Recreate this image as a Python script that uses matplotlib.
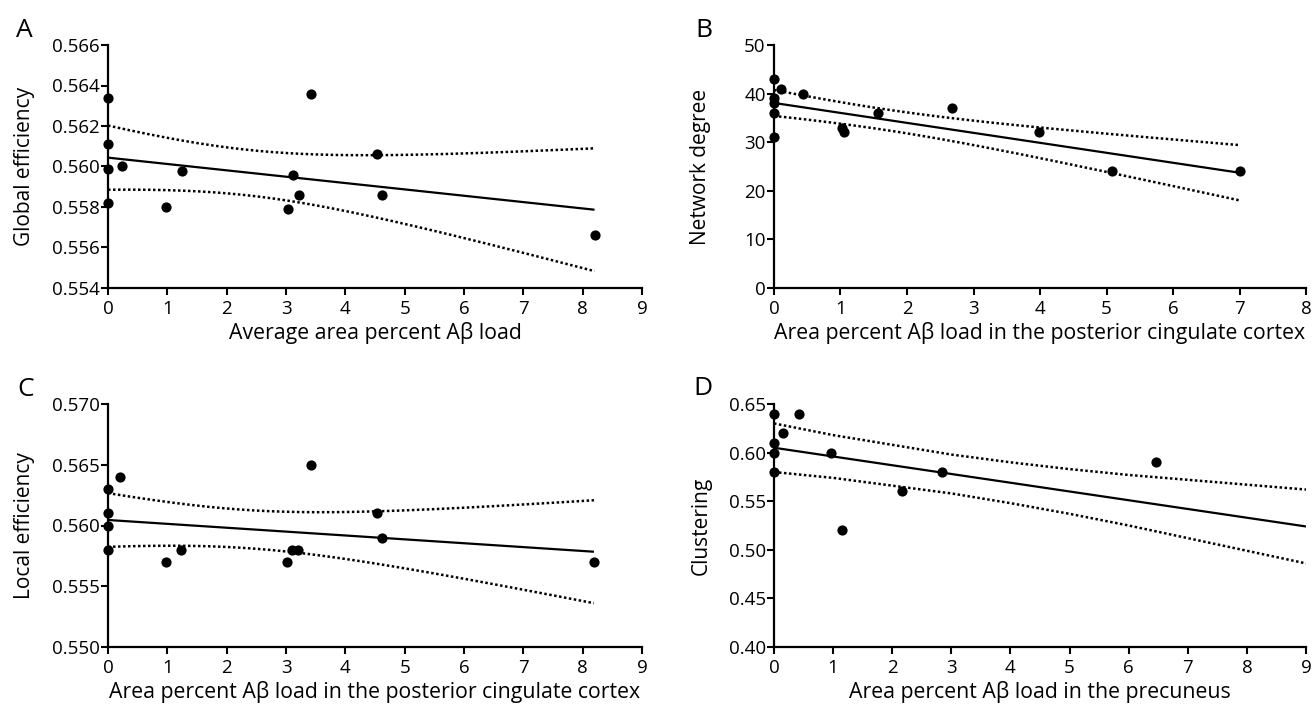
import numpy as np
import matplotlib
matplotlib.use("Agg")
import matplotlib.pyplot as plt

plt.rcParams['font.family'] = ['Open Sans', 'DejaVu Sans']

# ---------------- data ----------------
# Panel A: global efficiency vs average area percent Abeta load
A_x = [0, 0, 0, 0, 0.23, 0.98, 1.24, 3.03, 3.12, 3.22, 3.42, 4.54, 4.62, 8.20]
A_y = [0.5634, 0.5611, 0.5599, 0.5582, 0.5600, 0.5580, 0.5598, 0.5579,
       0.5596, 0.5586, 0.5636, 0.5606, 0.5586, 0.5566]
A_yticks = [0.554, 0.556, 0.558, 0.560, 0.562, 0.564, 0.566]
A_xticks = [0, 1, 2, 3, 4, 5, 6, 7, 8, 9]

# Panel B: network degree vs PCC load
B_x = [0, 0, 0, 0, 0, 0.11, 0.43, 1.02, 1.06, 1.56, 2.68, 3.99, 5.09, 7.01]
B_y = [43, 39, 38, 36, 31, 41, 40, 33, 32, 36, 37, 32, 24, 24]
B_yticks = [0, 10, 20, 30, 40, 50]
B_xticks = [0, 1, 2, 3, 4, 5, 6, 7, 8]

# Panel C: local efficiency vs PCC load
C_x = [0, 0, 0, 0, 0.21, 0.97, 1.23, 3.01, 3.10, 3.21, 3.42, 4.53, 4.61, 8.19]
C_y = [0.563, 0.561, 0.560, 0.558, 0.564, 0.557, 0.558, 0.557, 0.558,
       0.558, 0.565, 0.561, 0.559, 0.557]
C_yticks = [0.550, 0.555, 0.560, 0.565, 0.570]
C_xticks = [0, 1, 2, 3, 4, 5, 6, 7, 8, 9]

# Panel D: clustering vs precuneus load (fit & band)
D_x = [0, 0, 0, 0, 0.15, 0.42, 0.97, 1.15, 2.17, 2.84, 6.46]
D_y = [0.64, 0.61, 0.60, 0.58, 0.62, 0.64, 0.60, 0.52, 0.56, 0.58, 0.59]
D_line_x = [0, 9]
D_line_y = [0.605, 0.524]
D_band_x = [0, 1, 2, 3, 4, 5, 6, 7, 8, 9]
D_band_upper = [0.630, 0.618, 0.608, 0.598, 0.590, 0.583, 0.577, 0.572, 0.567, 0.562]
D_band_lower = [0.580, 0.574, 0.566, 0.558, 0.548, 0.537, 0.525, 0.512, 0.499, 0.486]
D_yticks = [0.40, 0.45, 0.50, 0.55, 0.60, 0.65]
D_xticks = [0, 1, 2, 3, 4, 5, 6, 7, 8, 9]

labels = {
    'A': ('Average area percent A\u03b2 load', 'Global efficiency'),
    'B': ('Area percent A\u03b2 load in the posterior cingulate cortex', 'Network degree'),
    'C': ('Area percent A\u03b2 load in the posterior cingulate cortex', 'Local efficiency'),
    'D': ('Area percent A\u03b2 load in the precuneus', 'Clustering'),
}

# 95% two-sided t critical values
T975 = {9: 2.262, 10: 2.228, 11: 2.201, 12: 2.179, 13: 2.160, 14: 2.145}


def ols_ci(x, y, xs):
    x = np.asarray(x, float)
    y = np.asarray(y, float)
    n = len(x)
    xm = x.mean()
    sxx = ((x - xm) ** 2).sum()
    b = ((x - xm) * (y - y.mean())).sum() / sxx
    a = y.mean() - b * xm
    res = y - (a + b * x)
    s = np.sqrt((res ** 2).sum() / (n - 2))
    t = T975[n - 2]
    fit = a + b * xs
    hw = t * s * np.sqrt(1.0 / n + (xs - xm) ** 2 / sxx)
    return fit, fit - hw, fit + hw


W, H = 1313, 705
fig = plt.figure(figsize=(W / 100, H / 100), dpi=100)


def add_axes(l, r, t, b):
    return fig.add_axes([l / W, 1 - b / H, (r - l) / W, (b - t) / H])


axA = add_axes(108, 642, 45, 288)
axB = add_axes(774, 1306, 45, 288)
axC = add_axes(108, 642, 404, 647)
axD = add_axes(774, 1306, 404, 647)

LINE_KW = dict(color='black', lw=1.6, solid_capstyle='butt')
DOT_KW = dict(color='black', lw=1.8, linestyle=(0, (1.0, 1.0)))
MK_KW = dict(s=54, color='black', zorder=5, clip_on=False, linewidths=0)


def style(ax, xticks, yticks, fmt, xlab, ylab, ylab_x):
    for sp in ['top', 'right']:
        ax.spines[sp].set_visible(False)
    for sp in ['left', 'bottom']:
        ax.spines[sp].set_linewidth(1.6)
    ax.set_xlim(xticks[0], xticks[-1])
    ax.set_ylim(yticks[0], yticks[-1])
    ax.set_xticks(xticks)
    ax.set_yticks(yticks)
    ax.set_yticklabels([fmt.format(v) for v in yticks])
    ax.tick_params(axis='both', direction='out', length=5, width=1.5,
                   labelsize=13.5, colors='black')
    ax.tick_params(axis='x', pad=3.5)
    ax.tick_params(axis='y', pad=1)
    ax.set_xlabel(xlab, fontsize=15.3)
    ax.set_ylabel(ylab, fontsize=15)
    ax.xaxis.set_label_coords(0.5, -0.138)
    ax.yaxis.set_label_coords(ylab_x, 0.5)


# Panel A
xs = np.linspace(min(A_x), max(A_x), 200)
fit, lo, hi = ols_ci(A_x, A_y, xs)
axA.plot(xs, fit, **LINE_KW)
axA.plot(xs, lo, **DOT_KW)
axA.plot(xs, hi, **DOT_KW)
axA.scatter(A_x, A_y, **MK_KW)
style(axA, A_xticks, A_yticks, '{:.3f}', *labels['A'], -0.137)

# Panel B
xs = np.linspace(min(B_x), max(B_x), 200)
fit, lo, hi = ols_ci(B_x, B_y, xs)
axB.plot(xs, fit, **LINE_KW)
axB.plot(xs, lo, **DOT_KW)
axB.plot(xs, hi, **DOT_KW)
axB.scatter(B_x, B_y, **MK_KW)
style(axB, B_xticks, B_yticks, '{:.0f}', *labels['B'], -0.118)

# Panel C
xs = np.linspace(min(C_x), max(C_x), 200)
fit, lo, hi = ols_ci(C_x, C_y, xs)
axC.plot(xs, fit, **LINE_KW)
axC.plot(xs, lo, **DOT_KW)
axC.plot(xs, hi, **DOT_KW)
axC.scatter(C_x, C_y, **MK_KW)
style(axC, C_xticks, C_yticks, '{:.3f}', *labels['C'], -0.137)

# Panel D
axD.plot(D_line_x, D_line_y, **LINE_KW)
axD.plot(D_band_x, D_band_upper, **DOT_KW)
axD.plot(D_band_x, D_band_lower, **DOT_KW)
axD.scatter(D_x, D_y, **MK_KW)
style(axD, D_xticks, D_yticks, '{:.2f}', *labels['D'], -0.117)

# Panel letters
for letter, (px, py) in {'A': (16, 37), 'B': (695, 37), 'C': (17, 396), 'D': (693, 395)}.items():
    fig.text(px / W, 1 - py / H, letter, fontsize=19, ha='left', va='baseline')

fig.savefig('out.png', dpi=100)
